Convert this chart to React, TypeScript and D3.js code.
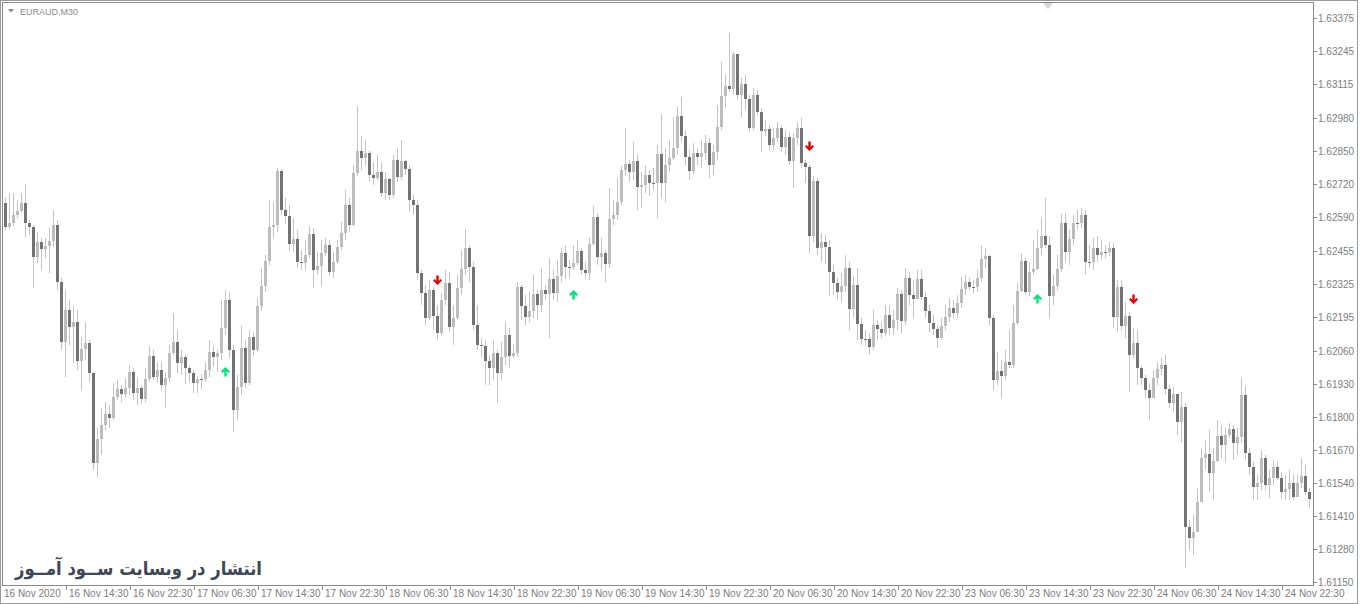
import React from 'react';
import * as d3 from 'd3';

const W = 1360;
const H = 604;

const chartTitle = 'EURAUD,M30';
const watermark = 'انتشار در وبسایت ســود آمــوز';
const firstOpen = 1.62645;

const closes = [
  1.62550,1.62566,1.62598,1.62614,1.62645,1.62566,1.62550,1.62432,1.62491,1.62464,
  1.62475,1.62495,1.62558,1.62333,1.62097,1.62223,1.62156,1.62176,1.62022,1.62069,
  1.62093,1.61974,1.61619,1.61714,1.61769,1.61813,1.61797,1.61879,1.61911,1.61891,
  1.61915,1.61978,1.61895,1.61915,1.61872,1.61951,1.62041,1.61958,1.61986,1.61927,
  1.61954,1.62053,1.62097,1.62014,1.62037,1.61994,1.61974,1.61935,1.61951,1.61951,
  1.61986,1.62057,1.62037,1.62053,1.62152,1.62262,1.62065,1.61829,1.61919,1.62073,
  1.61935,1.62116,1.62065,1.62238,1.62317,1.62416,1.62550,1.62558,1.62771,1.62618,
  1.62594,1.62483,1.62503,1.62412,1.62408,1.62440,1.62523,1.62381,1.62396,1.62448,
  1.62479,1.62373,1.62412,1.62471,1.62527,1.62637,1.62558,1.62763,1.62850,1.62822,
  1.62842,1.62755,1.62743,1.62767,1.62684,1.62740,1.62676,1.62815,1.62747,1.62811,
  1.62779,1.62657,1.62637,1.62369,1.62290,1.62191,1.62302,1.62199,1.62132,1.62262,
  1.62329,1.62156,1.62191,1.62309,1.62385,1.62467,1.62392,1.62164,1.62085,1.62081,
  1.62022,1.61994,1.62053,1.61974,1.62037,1.62124,1.62041,1.62053,1.62313,1.62238,
  1.62195,1.62219,1.62286,1.62243,1.62302,1.62286,1.62345,1.62290,1.62357,1.62448,
  1.62392,1.62392,1.62408,1.62456,1.62381,1.62369,1.62483,1.62590,1.62432,1.62448,
  1.62404,1.62582,1.62598,1.62649,1.62775,1.62799,1.62767,1.62811,1.62708,1.62716,
  1.62755,1.62724,1.62724,1.62838,1.62724,1.62795,1.62822,1.62862,1.62988,1.62909,
  1.62826,1.62771,1.62842,1.62826,1.62842,1.62882,1.62795,1.62846,1.62945,1.63067,
  1.63107,1.63095,1.63233,1.63071,1.63114,1.63056,1.62941,1.63071,1.63004,1.62929,
  1.62937,1.62874,1.62901,1.62941,1.62866,1.62905,1.62811,1.62901,1.62941,1.62803,
  1.62787,1.62515,1.62732,1.62467,1.62491,1.62471,1.62373,1.62329,1.62294,1.62317,
  1.62389,1.62227,1.62321,1.62168,1.62109,1.62109,1.62077,1.62164,1.62148,1.62132,
  1.62203,1.62152,1.62184,1.62286,1.62180,1.62349,1.62282,1.62266,1.62345,1.62274,
  1.62219,1.62172,1.62148,1.62112,1.62160,1.62195,1.62231,1.62211,1.62250,1.62306,
  1.62333,1.62313,1.62313,1.62349,1.62424,1.62436,1.62191,1.61947,1.61982,1.61962,
  1.62018,1.62006,1.62172,1.62298,1.62416,1.62294,1.62373,1.62385,1.62467,1.62515,
  1.62479,1.62278,1.62317,1.62385,1.62566,1.62452,1.62503,1.62566,1.62566,1.62598,
  1.62412,1.62412,1.62467,1.62440,1.62452,1.62452,1.62467,1.62195,1.62313,1.62160,
  1.62199,1.62045,1.62093,1.61994,1.61954,1.61907,1.61876,1.61954,1.61990,1.62006,
  1.61911,1.61856,1.61891,1.61781,1.61840,1.61367,1.61324,1.61347,1.61466,1.61639,
  1.61655,1.61580,1.61627,1.61726,1.61691,1.61730,1.61754,1.61698,1.61722,1.61887,
  1.61659,1.61604,1.61525,1.61541,1.61639,1.61533,1.61560,1.61604,1.61560,1.61505,
  1.61517,1.61541,1.61485,1.61541,1.61568,1.61505,1.61478
];

const highs = [
  1.62668,1.62684,1.62684,1.62657,1.62684,1.62720,1.62578,1.62558,1.62531,1.62507,
  1.62507,1.62547,1.62618,1.62578,1.62349,1.62302,1.62262,1.62238,1.62223,1.62116,
  1.62176,1.62105,1.61978,1.61758,1.61837,1.61860,1.61849,1.61935,1.61947,1.61927,
  1.61954,1.62006,1.61994,1.61954,1.61927,1.61994,1.62081,1.62065,1.62018,1.62018,
  1.61978,1.62085,1.62211,1.62144,1.62065,1.62045,1.62006,1.61986,1.61962,1.61970,
  1.62018,1.62105,1.62081,1.62065,1.62262,1.62302,1.62294,1.62085,1.61966,1.62160,
  1.62105,1.62144,1.62136,1.62270,1.62389,1.62440,1.62657,1.62649,1.62783,1.62779,
  1.62665,1.62637,1.62586,1.62539,1.62460,1.62499,1.62554,1.62547,1.62452,1.62499,
  1.62507,1.62499,1.62452,1.62499,1.62570,1.62696,1.62665,1.62795,1.63028,1.62909,
  1.62894,1.62850,1.62807,1.62834,1.62803,1.62767,1.62743,1.62834,1.62862,1.62894,
  1.62815,1.62795,1.62676,1.62657,1.62381,1.62321,1.62341,1.62313,1.62243,1.62290,
  1.62381,1.62373,1.62243,1.62361,1.62460,1.62542,1.62479,1.62412,1.62243,1.62112,
  1.62105,1.62045,1.62105,1.62065,1.62097,1.62176,1.62152,1.62089,1.62333,1.62321,
  1.62282,1.62294,1.62361,1.62302,1.62389,1.62321,1.62428,1.62381,1.62420,1.62467,
  1.62479,1.62420,1.62479,1.62499,1.62467,1.62412,1.62511,1.62633,1.62606,1.62507,
  1.62460,1.62704,1.62657,1.62743,1.62791,1.62940,1.62815,1.62886,1.62834,1.62767,
  1.62795,1.62775,1.62783,1.62874,1.62996,1.62862,1.62894,1.62984,1.63024,1.63063,
  1.62933,1.62854,1.62882,1.62862,1.62894,1.62913,1.62901,1.62874,1.63032,1.63201,
  1.63150,1.63316,1.63241,1.63229,1.63138,1.63150,1.63071,1.63099,1.63091,1.63020,
  1.62973,1.62953,1.62941,1.62965,1.62953,1.62933,1.62925,1.62921,1.62965,1.62980,
  1.62815,1.62795,1.62751,1.62743,1.62527,1.62519,1.62499,1.62400,1.62349,1.62369,
  1.62440,1.62412,1.62357,1.62389,1.62191,1.62144,1.62132,1.62223,1.62184,1.62176,
  1.62243,1.62243,1.62223,1.62309,1.62302,1.62389,1.62373,1.62341,1.62381,1.62381,
  1.62294,1.62243,1.62203,1.62164,1.62191,1.62243,1.62270,1.62262,1.62282,1.62353,
  1.62361,1.62349,1.62341,1.62381,1.62479,1.62467,1.62440,1.62203,1.62057,1.62026,
  1.62065,1.62144,1.62243,1.62329,1.62448,1.62428,1.62412,1.62499,1.62539,1.62586,
  1.62665,1.62515,1.62361,1.62440,1.62602,1.62606,1.62539,1.62598,1.62618,1.62625,
  1.62618,1.62479,1.62507,1.62515,1.62499,1.62479,1.62491,1.62487,1.62341,1.62341,
  1.62254,1.62215,1.62152,1.62144,1.62006,1.61966,1.61935,1.61986,1.62018,1.62034,
  1.62045,1.61927,1.61919,1.61887,1.61899,1.61856,1.61395,1.61415,1.61521,1.61679,
  1.61710,1.61750,1.61679,1.61789,1.61769,1.61758,1.61777,1.61769,1.61758,1.61954,
  1.61923,1.61679,1.61623,1.61572,1.61671,1.61651,1.61592,1.61631,1.61623,1.61584,
  1.61572,1.61592,1.61572,1.61572,1.61639,1.61611,1.61521
];

const lows = [
  1.62539,1.62542,1.62554,1.62586,1.62610,1.62511,1.62519,1.62309,1.62408,1.62381,
  1.62428,1.62369,1.62471,1.62302,1.62065,1.61958,1.62085,1.62014,1.61986,1.61907,
  1.62026,1.61939,1.61592,1.61564,1.61651,1.61750,1.61758,1.61789,1.61868,1.61860,
  1.61876,1.61887,1.61868,1.61849,1.61852,1.61860,1.61939,1.61947,1.61935,1.61907,
  1.61837,1.61939,1.62045,1.61974,1.61966,1.61931,1.61939,1.61895,1.61895,1.61911,
  1.61939,1.61958,1.61998,1.61978,1.62026,1.62124,1.62034,1.61742,1.61789,1.61887,
  1.61915,1.61927,1.62041,1.62057,1.62219,1.62294,1.62400,1.62507,1.62531,1.62598,
  1.62562,1.62456,1.62452,1.62389,1.62381,1.62381,1.62428,1.62309,1.62361,1.62317,
  1.62436,1.62357,1.62349,1.62404,1.62460,1.62499,1.62531,1.62554,1.62751,1.62775,
  1.62795,1.62728,1.62716,1.62736,1.62668,1.62657,1.62657,1.62665,1.62728,1.62736,
  1.62755,1.62610,1.62598,1.62341,1.62243,1.62164,1.62184,1.62144,1.62105,1.62124,
  1.62243,1.62136,1.62085,1.62184,1.62282,1.62361,1.62333,1.62144,1.62065,1.62037,
  1.61927,1.61927,1.61947,1.61856,1.61947,1.62006,1.61994,1.62034,1.62037,1.62184,
  1.62164,1.62176,1.62191,1.62184,1.62215,1.62262,1.62112,1.62262,1.62254,1.62333,
  1.62345,1.62349,1.62381,1.62400,1.62361,1.62349,1.62341,1.62479,1.62400,1.62381,
  1.62333,1.62389,1.62558,1.62578,1.62637,1.62751,1.62728,1.62736,1.62618,1.62625,
  1.62684,1.62672,1.62696,1.62586,1.62665,1.62649,1.62767,1.62815,1.62834,1.62886,
  1.62795,1.62736,1.62755,1.62795,1.62783,1.62815,1.62743,1.62755,1.62815,1.62933,
  1.63020,1.63083,1.63071,1.63052,1.62984,1.63012,1.62925,1.62933,1.62992,1.62846,
  1.62909,1.62854,1.62854,1.62886,1.62846,1.62834,1.62795,1.62704,1.62874,1.62783,
  1.62724,1.62448,1.62491,1.62440,1.62412,1.62404,1.62278,1.62282,1.62262,1.62254,
  1.62294,1.62144,1.62195,1.62105,1.62085,1.62085,1.62045,1.62065,1.62105,1.62112,
  1.62120,1.62124,1.62124,1.62144,1.62132,1.62164,1.62243,1.62191,1.62302,1.62262,
  1.62191,1.62136,1.62124,1.62073,1.62105,1.62144,1.62176,1.62191,1.62191,1.62231,
  1.62282,1.62302,1.62290,1.62294,1.62333,1.62389,1.62164,1.61907,1.61927,1.61876,
  1.61947,1.61994,1.61994,1.62164,1.62294,1.62282,1.62278,1.62361,1.62381,1.62440,
  1.62467,1.62191,1.62243,1.62302,1.62373,1.62412,1.62400,1.62479,1.62539,1.62547,
  1.62361,1.62389,1.62381,1.62412,1.62420,1.62428,1.62436,1.62152,1.62136,1.62144,
  1.62112,1.61899,1.62034,1.61927,1.61927,1.61876,1.61789,1.61876,1.61927,1.61966,
  1.61887,1.61837,1.61821,1.61730,1.61698,1.61205,1.61276,1.61257,1.61347,1.61466,
  1.61592,1.61505,1.61474,1.61623,1.61639,1.61623,1.61718,1.61631,1.61651,1.61698,
  1.61631,1.61572,1.61474,1.61474,1.61513,1.61513,1.61482,1.61533,1.61552,1.61482,
  1.61474,1.61474,1.61474,1.61493,1.61521,1.61493,1.61441
];

const timeLabels = [
  '16 Nov 2020', '16 Nov 14:30', '16 Nov 22:30', '17 Nov 06:30', '17 Nov 14:30',
  '17 Nov 22:30', '18 Nov 06:30', '18 Nov 14:30', '18 Nov 22:30', '19 Nov 06:30',
  '19 Nov 14:30', '19 Nov 22:30', '20 Nov 06:30', '20 Nov 14:30', '20 Nov 22:30',
  '23 Nov 06:30', '23 Nov 14:30', '23 Nov 22:30', '24 Nov 06:30', '24 Nov 14:30',
  '24 Nov 22:30'
];
const timeLabelBars = [0, 15, 31, 47, 63, 79, 95, 111, 127, 143, 159, 175, 191, 207, 223, 239, 255, 271, 287, 303, 319];

const priceTicks = [
  1.63375, 1.63245, 1.63115, 1.62980, 1.62850, 1.62720, 1.62590, 1.62455, 1.62325,
  1.62195, 1.62060, 1.61930, 1.61800, 1.61670, 1.61540, 1.61410, 1.61280, 1.61150
];

const buyArrowBars = [55, 142, 258];
const buyArrowPrices = [1.61978, 1.62282, 1.62266];
const sellArrowBars = [108, 201, 282];
const sellArrowPrices = [1.62341, 1.62870, 1.62266];

const BULL = '#bdbdbd';
const BEAR = '#737373';
const WICK = '#c4c4c4';
const AXIS_TEXT = '#7d7d7d';
const FONT = '"Liberation Sans", Arial, sans-serif';

function arrowPath(cx: number, cy: number, up: boolean) {
  const s = up ? 1 : -1;
  const pts: [number, number][] = [
    [0, -5], [4.5, -0.5], [3, 1], [1.2, -0.8], [1.2, 4.5], [-1.2, 4.5], [-1.2, -0.8], [-3, 1], [-4.5, -0.5]
  ];
  return 'M' + pts.map(([dx, dy]) => `${cx + dx},${cy + s * dy}`).join('L') + 'Z';
}

export default function App() {
  const n = closes.length;
  const x = d3.scaleLinear().domain([0, n - 1]).range([5, 5 + 4 * (n - 1)]);
  const y = d3.scaleLinear().domain([1.6115, 1.63375]).range([582, 18]);

  const plotLeft = 3;
  const plotTop = 3;
  const plotRight = 1313;
  const plotBottom = 585;

  const candles = closes.map((c, i) => {
    const o = i === 0 ? firstOpen : closes[i - 1];
    const hi = Math.max(highs[i] ?? c, o, c);
    const lo = Math.min(lows[i] ?? c, o, c);
    return { i, o, c, hi, lo };
  });

  return (
    <svg
      width={W}
      height={H}
      viewBox={`0 0 ${W} ${H}`}
      style={{ position: 'fixed', left: 0, top: 0, background: '#ffffff' }}
    >
      <rect x={0} y={0} width={W} height={H} fill="#ffffff" />
      {/* window border */}
      <rect x={0.5} y={0.5} width={W - 3} height={H - 1} fill="none" stroke="#9a9a9a" />
      {/* plot frame */}
      <rect
        x={plotLeft + 0.5 - 1}
        y={plotTop + 0.5 - 1}
        width={plotRight - plotLeft + 1}
        height={plotBottom - plotTop + 1}
        fill="none"
        stroke="#8a8a8a"
      />

      {/* candles */}
      <g shapeRendering="crispEdges">
        {candles.map((d) => {
          const cx = Math.round(x(d.i));
          const yTop = Math.round(y(Math.max(d.o, d.c)));
          const yBot = Math.round(y(Math.min(d.o, d.c)));
          const bull = d.c > d.o;
          const bodyH = Math.max(1, yBot - yTop);
          return (
            <g key={d.i}>
              <line
                x1={cx + 0.5}
                x2={cx + 0.5}
                y1={Math.round(y(d.hi))}
                y2={Math.round(y(d.lo))}
                stroke={WICK}
                strokeWidth={1}
              />
              <rect x={cx - 1} y={yTop} width={3} height={bodyH} fill={bull ? BULL : BEAR} />
            </g>
          );
        })}
      </g>

      {/* signal arrows */}
      {buyArrowBars.map((b, k) => (
        <path key={'b' + k} d={arrowPath(Math.round(x(b)) + 0.5, y(buyArrowPrices[k]), true)} fill="#00e676" />
      ))}
      {sellArrowBars.map((b, k) => (
        <path key={'s' + k} d={arrowPath(Math.round(x(b)) + 0.5, y(sellArrowPrices[k]), false)} fill="#e60000" />
      ))}

      {/* chart shift marker */}
      <path d="M1043,3 L1053,3 L1048,9 Z" fill="#d6d6d6" />

      {/* price axis */}
      <g fontFamily={FONT} fontSize={10} fill={AXIS_TEXT}>
        {priceTicks.map((p) => {
          const yy = Math.round(y(p));
          return (
            <g key={p}>
              <line x1={plotRight} x2={plotRight + 4} y1={yy + 0.5} y2={yy + 0.5} stroke="#8a8a8a" />
              <text x={plotRight + 5} y={yy + 3.5}>{p.toFixed(5)}</text>
            </g>
          );
        })}
      </g>

      {/* time axis */}
      <g fontFamily={FONT} fontSize={10} fill={AXIS_TEXT}>
        {timeLabels.map((t, k) => {
          const bar = timeLabelBars[k];
          const tx = k === 0 ? plotLeft : Math.round(x(bar)) + 1;
          return (
            <g key={t}>
              {k > 0 && (
                <line x1={tx + 0.5} x2={tx + 0.5} y1={plotBottom} y2={plotBottom + 5} stroke="#8a8a8a" />
              )}
              <text x={tx + (k === 0 ? 1 : 3)} y={597}>{t}</text>
            </g>
          );
        })}
      </g>

      {/* title */}
      <path d="M8,9 L14,9 L11,12.5 Z" fill="#8a8a8a" />
      <text x={20} y={15} fontFamily={FONT} fontSize={9} fill="#8a8a8a">{chartTitle}</text>

      {/* watermark */}
      <text
        x={138.5}
        y={575}
        textAnchor="middle"
        fontFamily={'"DejaVu Sans", sans-serif'}
        fontWeight="bold"
        fontSize={19}
        textLength={247}
        lengthAdjust="spacingAndGlyphs"
        fill="#3e4756"
      >
        {watermark}
      </text>
    </svg>
  );
}
